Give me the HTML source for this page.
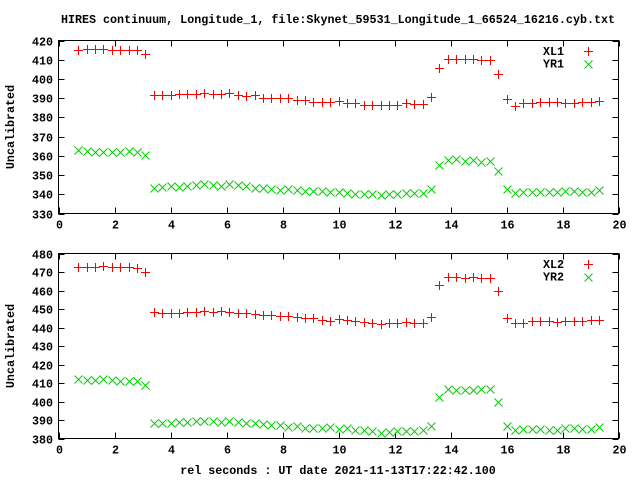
<!DOCTYPE html>
<html><head><meta charset="utf-8">
<style>
html,body{margin:0;padding:0;background:#fff;}
svg{display:block;font-family:"Liberation Mono","DejaVu Sans Mono",monospace;font-size:11.7px;font-weight:bold;}
</style></head>
<body>
<svg id="chart" width="640" height="480" viewBox="0 0 640 480" xmlns="http://www.w3.org/2000/svg">
<rect width="640" height="480" fill="#fff"/>
<text x="338" y="23" text-anchor="middle">HIRES continuum, Longitude_1, file:Skynet_59531_Longitude_1_66524_16216.cyb.txt</text>
<text x="338" y="474" text-anchor="middle">rel seconds : UT date 2021-11-13T17:22:42.100</text>
<g id="plots"></g>
</svg>
<script>
const xVals=[0.7,1.0,1.3,1.6,1.9,2.2,2.5,2.8,3.1,3.4,3.7,4.0,4.3,4.6,4.9,5.2,5.5,5.8,6.1,6.4,6.7,7.0,7.3,7.6,7.9,8.2,8.5,8.8,9.1,9.4,9.7,10.0,10.3,10.6,10.9,11.2,11.5,11.8,12.1,12.4,12.7,13.0,13.3,13.6,13.9,14.2,14.5,14.8,15.1,15.4,15.7,16.0,16.3,16.6,16.9,17.2,17.5,17.8,18.1,18.4,18.7,19.0,19.3];
const xl1=[415,415.5,415.5,415.5,415,415,415,415,413,391.5,391.5,391.5,392,392,392,392.5,392,392,392.5,391.5,391,391.5,390,390,390,390,389,389,388,388,388,388.5,387.5,387.5,386.5,386.5,386.5,386.5,386.5,387.5,387,387,390.5,405.5,410.5,410.5,410.5,410.5,410,410,402.5,389.5,386,387.5,387.5,388,388,388,387.5,387.5,388,388,388.5];
const yr1=[363,362.5,362,362,362,362,362.5,362,360.5,343.5,344,344.5,344,344.5,345,345.5,345,344.5,345.5,345,344.5,343.5,343.5,342.5,342,343,342,341.5,341.5,341.5,341,341,340.5,340,340,340,339.5,340,340,340.5,340.5,340.5,342.5,355,358,358.5,357.5,358,357,357.5,352,342.5,340.5,341,341,341,341,341,341.5,341.5,341,341,342];
const xl2=[472.5,472.5,472.5,473,472.5,472.5,472.5,472,470,448.5,448,448,448,448.5,448.5,449,448.5,449,448.5,448,448,447.5,447,446.5,446,446,445.5,445,445,444,443.5,444.5,444,443.5,443,442.5,442,442.5,442.5,443,442.5,442.5,445.5,463,467.5,467.5,467,467.5,466.5,467,459.5,445,442.5,442.5,443.5,443.5,443.5,443,443.5,443.5,443.5,444,444];
const yr2=[412,411.5,411.5,412,411.5,411,411,411,409,388.5,388.5,388.5,389,389,389.5,389.5,389.5,389,389.5,389,388.5,388.5,388,387.5,387.5,386,386.5,385.5,385.5,385.5,386,385,385.5,384.5,384.5,384,383,383.5,384,384,384,384.5,386.5,402.5,407,406,406,406,406.5,406.5,399.5,387,384.5,385,385,385,384.5,384.5,385.5,385.5,385,385,386];
const xTicks=[0,2,4,6,8,10,12,14,16,18,20];
const yTicks1=[330,340,350,360,370,380,390,400,410,420];
const yTicks2=[380,390,400,410,420,430,440,450,460,470,480];
const legend1=["XL1","YR1"];
const legend2=["XL2","YR2"];

const NS="http://www.w3.org/2000/svg";
const root=document.getElementById('plots');
function mk(tag,attrs,parent){const e=document.createElementNS(NS,tag);for(const k in attrs)e.setAttribute(k,attrs[k]);(parent||root).appendChild(e);return e;}
const L=58.5,R=618.5;
function xScale(v){return L+(v-0)/(20-0)*(R-L);}

function panel(id,top,bot,ymin,ymax,yTicks,sA,sB,names){
  const g=mk('g',{});
  
  
  const yScale=v=>bot-(v-ymin)/(ymax-ymin)*(bot-top);
  const frame=mk('rect',{x:L,y:top,width:R-L,height:bot-top,fill:'none',stroke:'#000','stroke-width':1},g);
  
  
  yTicks.forEach(t=>{
    const y=Math.round(yScale(t))+0.5;
    const tk=mk('path',{d:`M${L},${y}h6M${R},${y}h-6`,stroke:'#000','stroke-width':1,fill:'none'},g);
    
    
    const lb=mk('text',{x:53,y:y+4,'text-anchor':'end'},g);
    
    
    lb.textContent=t;
  });
  xTicks.forEach(t=>{
    const x=Math.round(xScale(t))+0.5;
    const tk=mk('path',{d:`M${x},${bot}v-6M${x},${top}v6`,stroke:'#000','stroke-width':1,fill:'none'},g);
    
    
    const lb=mk('text',{x:x,y:bot+15,'text-anchor':'middle'},g);
    
    
    lb.textContent=t;
  });
  const yt=mk('text',{x:0,y:0,'text-anchor':'middle',transform:`translate(14,${(top+bot)/2}) rotate(-90)`},g);
  
  
  yt.textContent='Uncalibrated';
  function plus(x,y,parent){return mk('path',{d:`M${x-4.5},${y}h9M${x},${y-4.5}v9`,stroke:'#f00','stroke-width':1,fill:'none'},parent);}
  function cross(x,y,parent){return mk('path',{d:`M${x-4},${y-4}l8,8M${x-4},${y+4}l8,-8`,stroke:'#0c0','stroke-width':1,fill:'none'},parent);}
  const gA=mk('g',{},g);
  
  
  sA.forEach((v,i)=>{const p=plus(Math.round(xScale(xVals[i]))+0.5,Math.round(yScale(v))+0.5,gA);
    
    });
  const gB=mk('g',{},g);
  
  
  sB.forEach((v,i)=>{const p=cross(Math.round(xScale(xVals[i]))+0.5,Math.round(yScale(v))+0.5,gB);
    
    });
  const lg=mk('g',{},g);
  
  
  names.forEach((n,k)=>{
    const y=top+10.5+k*12.5;
    const t=mk('text',{x:564,y:y+4,'text-anchor':'end'},lg);
    
    
    t.textContent=n;
    const m=k===0?plus(588.5,Math.round(y)+0.5,lg):cross(588.5,Math.round(y)+0.5,lg);
    
    
  });
}
panel('top',40.5,213.5,330,420,yTicks1,xl1,yr1,legend1);
panel('bottom',253.5,438.5,380,480,yTicks2,xl2,yr2,legend2);
</script>
</body></html>
